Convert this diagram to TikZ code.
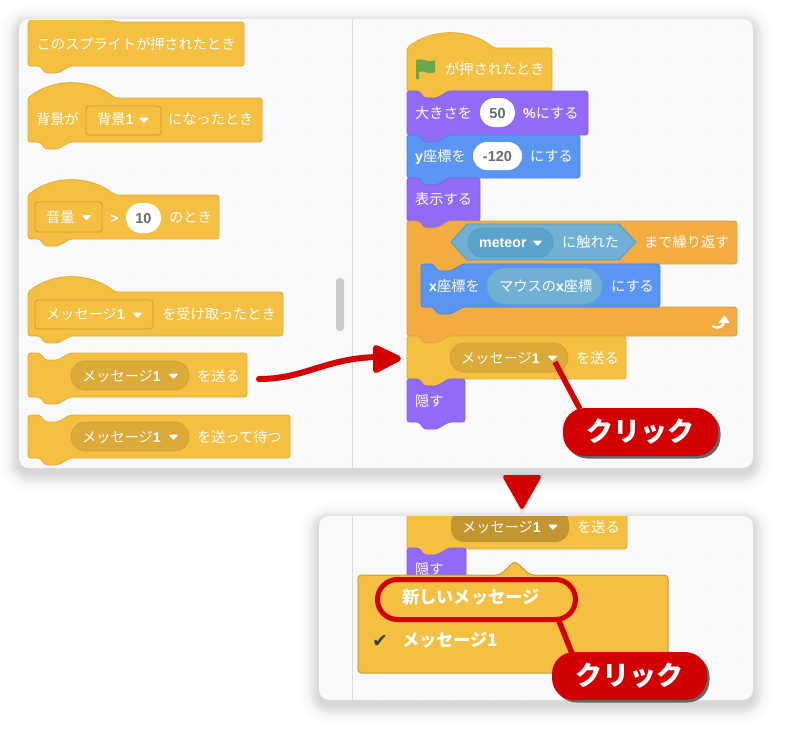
\documentclass[tikz,border=0pt]{standalone}
\usepackage{fontspec}
\usetikzlibrary{shadows,calc}
\setmainfont{Noto Sans CJK JP}
\newfontfamily\lat{Liberation Sans}
\newfontfamily\dejv{DejaVu Sans}
\definecolor{ylw}{HTML}{F5BF42}
\definecolor{ylwd}{HTML}{E0AC3C}
\definecolor{pil}{HTML}{DBAA38}
\definecolor{pur}{HTML}{916AF6}
\definecolor{purd}{HTML}{8560E0}
\definecolor{blu}{HTML}{5B95F3}
\definecolor{blud}{HTML}{4F86DC}
\definecolor{org}{HTML}{F3AC42}
\definecolor{orgd}{HTML}{E09E3C}
\definecolor{sens}{HTML}{6FB0D4}
\definecolor{sensd}{HTML}{5A9CC4}
\definecolor{senp}{HTML}{5CA3CC}
\definecolor{redc}{HTML}{D20000}
\definecolor{pane}{HTML}{F9F9F9}
\definecolor{flagc}{HTML}{66A84E}
\newcount\lblc
\tikzset{
  blk/.style={line width=0.8pt,rounded corners=2.6pt,line join=round},
  ylwb/.style={blk,fill=ylw,draw=ylwd},
  purb/.style={blk,fill=pur,draw=purd},
  blub/.style={blk,fill=blu,draw=blud},
  orgb/.style={blk,fill=org,draw=orgd},
  lab/.style={anchor=base west,inner sep=0pt,text=white,font=\fontsize{14.2}{16}\selectfont},
  gray lab/.style={anchor=base,inner sep=0pt,text=black!58,font=\fontsize{14.5}{16}\selectfont\lat\bfseries},
  redl/.style={draw=redc,line width=5.5pt,line cap=round},
  badge/.style={fill=redc,text=white,rounded corners=22pt,inner sep=0pt,minimum width=155pt,minimum height=48pt,
    font=\fontsize{27}{29}\selectfont\bfseries,
    drop shadow={shadow xshift=2.5pt,shadow yshift=-2.5pt,fill=black!60,opacity=1}},
}
% x1 y1 x2 y2 style
\newcommand\stk[5]{\draw[#5] (#1,#2) -- ({#1+12},#2) -- ({#1+17},{#2+7}) -- ({#1+30},{#2+7}) -- ({#1+42},#2) -- (#3,#2) -- (#3,#4) -- ({#1+42},#4) -- ({#1+30},{#4+7}) -- ({#1+17},{#4+7}) -- ({#1+12},#4) -- (#1,#4) -- cycle;}
\newcommand\hatblk[5]{\draw[#5] (#1,#2) .. controls ({#1+25},{#2-20}) and ({#1+62},{#2-20}) .. ({#1+87},#2) -- (#3,#2) -- (#3,#4) -- ({#1+42},#4) -- ({#1+30},{#4+7}) -- ({#1+17},{#4+7}) -- ({#1+12},#4) -- (#1,#4) -- cycle;}
\newcommand\lbl[3]{\global\advance\lblc by 1 \node[lab] (t\the\lblc) at (#1,{#2+5}) {#3};}
\newcommand\gl[3]{\global\advance\lblc by 1 \node[gray lab] (t\the\lblc) at (#1,{#2+5}) {#3};}
\newcommand\ddtri[2]{\fill[white,draw=white,line width=1.4pt,line join=round] ({#1-3.6},{#2-1.8}) -- ({#1+3.6},{#2-1.8}) -- (#1,{#2+1.9}) -- cycle;}
\newcommand\pillb[5]{\draw[fill=#5,draw=#5!95!black,line width=0.7pt,rounded corners={(#4-#2)/2*1pt}] (#1,#2) rectangle (#3,#4);}
\newcommand\whitep[4]{\fill[white,rounded corners={(#4-#2)/2*1pt}] (#1,#2) rectangle (#3,#4);}
\newcommand\ddbox[4]{\draw[fill=ylw,draw=ylwd!92!black,line width=0.9pt,rounded corners=3pt] (#1,#2) rectangle (#3,#4);}
\newcommand\softshadow[4]{%
  \foreach \i in {1,...,20}{\fill[black,opacity=.0035,rounded corners={(10+\i)*1pt}] ({#1-\i},{#2-\i+5}) rectangle ({#3+\i},{#4+\i+5});}%
  \foreach \i in {1,...,10}{\fill[black,opacity=.0085,rounded corners={(10+\i)*1pt}] ({#1-\i},{#2-\i+5}) rectangle ({#3+\i},{#4+\i+5});}%
}
\begin{document}
\begin{tikzpicture}[x=1pt,y=-1pt]
\useasboundingbox (0,0) rectangle (785,732);
\fill[white] (0,0) rectangle (785,732);
% shadows and panels
\softshadow{19}{19}{753}{468}
\softshadow{319}{516}{753}{700}
\fill[pane,rounded corners=10pt] (19,19) rectangle (753,468);
\fill[pane,rounded corners=10pt] (319,516) rectangle (753,700);
\foreach \yy in {25,61,...,457}{\foreach \xx in {23,59,...,743}{\fill[black!9] (\xx,\yy) circle (0.7pt);}}
\foreach \yy in {517,553,...,697}{\foreach \xx in {383,419,...,743}{\fill[black!9] (\xx,\yy) circle (0.7pt);}}
\draw[black!14,line width=1pt] (352,19) -- (352,468);
\draw[black!14,line width=1pt] (352,516) -- (352,700);
\fill[black!20,rounded corners=3.5pt] (336,278) rectangle (344,331);
% left palette
\begin{scope}
\clip[rounded corners=10pt] (19,20) rectangle (753,468);
\hatblk{28}{22}{244}{66}{ylwb}
\end{scope}
\lbl{36.5}{44}{このスプライトが押されたとき}
\hatblk{28}{98}{262}{142}{ylwb}
\lbl{36}{119}{背景が}
\ddbox{86}{106}{161}{135}
\lbl{97}{119.5}{背景{\lat\bfseries 1}}
\ddtri{144}{120}
\lbl{168}{119}{になったとき}
\hatblk{28}{195}{219}{239}{ylwb}
\ddbox{35}{202}{102}{232}
\lbl{46}{217}{音量}
\ddtri{86.5}{217.5}
\lbl{110}{218}{{\lat\bfseries >}}
\whitep{126}{203}{161}{233}
\gl{143.5}{218}{10}
\lbl{169}{217.5}{のとき}
\hatblk{28}{292}{283}{336}{ylwb}
\ddbox{35}{300}{153}{329}
\lbl{46}{314}{メッセージ{\lat\bfseries 1}}
\ddtri{137.5}{315}
\lbl{162}{314}{を受け取ったとき}
\stk{28}{353}{247}{397}{ylwb}
\pillb{71}{361}{189}{390}{pil}
\lbl{82}{376}{メッセージ{\lat\bfseries 1}}
\ddtri{173.5}{376}
\lbl{197}{376}{を送る}
\stk{28}{415}{290}{458}{ylwb}
\pillb{71}{422}{189}{451}{pil}
\lbl{82}{437}{メッセージ{\lat\bfseries 1}}
\ddtri{173.5}{437}
\lbl{197}{437}{を送って待つ}
% script
\hatblk{407}{48}{552}{91}{ylwb}
\fill[flagc] (416,60) .. controls (422,57) and (428,64) .. (435,60) -- (435,72) .. controls (428,76) and (423,69) .. (419,72) -- (419,79) -- (416,79) -- cycle;
\lbl{445}{69}{が押されたとき}
\stk{407}{91}{588}{135}{purb}
\lbl{415}{113}{大きさを}
\whitep{480}{98}{515}{127}
\gl{497.5}{113}{50}
\lbl{523}{113}{{\lat\bfseries\%}にする}
\stk{407}{135}{580}{178}{blub}
\lbl{415}{156}{{\lat\bfseries y}座標を}
\whitep{473}{142}{522}{170}
\gl{497.5}{156}{-120}
\lbl{530}{156}{にする}
\stk{407}{178}{480}{221}{purb}
\lbl{415}{199}{表示する}
% C block
\draw[orgb] (407,221) -- (419,221) -- (424,228) -- (437,228) -- (449,221) -- (737,221) -- (737,264) -- (463,264) -- (451,271) -- (438,271) -- (433,264) -- (421,264) -- (421,307) -- (737,307) -- (737,336) -- (449,336) -- (437,343) -- (424,343) -- (419,336) -- (407,336) -- cycle;
\draw[fill=sens,draw=sensd,line width=0.9pt,line join=round] (451,242) -- (467,224) -- (619,224) -- (636,242) -- (619,260) -- (467,260) -- cycle;
\pillb{468}{228}{553}{257}{senp}
\lbl{479}{242}{{\lat\bfseries meteor}}
\ddtri{537.5}{243}
\lbl{562}{242}{に触れた}
\lbl{644}{242}{まで繰り返す}
\stk{421}{264}{660}{307}{blub}
\lbl{429}{286}{{\lat\bfseries x}座標を}
\pillb{487}{268}{602}{304}{sens}
\lbl{499}{286}{マウスの{\lat\bfseries x}座標}
\lbl{611}{286}{にする}
\draw[white,line width=2.4pt,line cap=round] (713,326.5) .. controls (719,329) and (723.5,327) .. (724,321);
\fill[white,draw=white,line width=0.8pt,line join=round] (719,322.5) -- (729,322.5) -- (724.5,316) -- cycle;
\stk{407}{336}{626}{379}{ylwb}
\pillb{450}{343}{568}{372}{pil}
\lbl{461}{358}{メッセージ{\lat\bfseries 1}}
\ddtri{552.5}{358}
\lbl{576}{358}{を送る}
\stk{407}{379}{465}{422}{purb}
\lbl{415}{401}{隠す}
% curved arrow
\coordinate (arrowstart) at (259,379);
\coordinate (arrowend) at (378,357);
\draw[redl,line width=6pt] (arrowstart) .. controls (305,379) and (325,358) .. (arrowend);
\fill[redc,draw=redc,line width=6pt,line join=round] (376,348) -- (398,358.5) -- (376,370) -- cycle;
% click badge 1
\coordinate (clicksrc) at (555,362);
\node[badge] (click1) at (640.5,432) {クリック};
\draw[redl,line cap=butt] (clicksrc) -- ([xshift=17pt,yshift=-1pt]click1.north west);
% down triangle
\foreach \i in {1,...,5}{\fill[black,opacity=.02] ({505-\i},{476-\i+2}) -- ({540+\i},{476-\i+2}) -- (522,{509+\i+2}) -- cycle;}
\fill[redc,draw=redc,line width=4pt,line join=round] (505,477) -- (539,477) -- (522,507) -- cycle;
% lower panel
\begin{scope}
\clip[rounded corners=10pt] (319,516) rectangle (753,700);
\stk{407}{505}{627}{549}{ylwb}
\fill[pil!88!black,rounded corners=13pt] (451,510) rectangle (569,542);
\lbl{462}{527}{メッセージ{\lat\bfseries 1}}
\ddtri{553}{527}
\lbl{577}{527}{を送る}
\stk{407}{548}{466}{600}{purb}
\lbl{415}{569}{隠す}
\end{scope}
% menu
\draw[fill=ylw,draw=ylwd!90!black,line width=1pt,rounded corners=3.5pt,line join=round] (358,575) -- (500,575) -- (515,561) -- (530,575) -- (668,575) -- (668,673) -- (358,673) -- cycle;
\lbl{402}{598}{\fontsize{17.2}{19}\selectfont\bfseries 新しいメッセージ}
\node[lab,text=black!75,font=\fontsize{19}{20}\selectfont\dejv] (checkm) at (372,{640+7}) {✔};
\lbl{402}{641}{\fontsize{17.2}{19}\selectfont\bfseries メッセージ1}
\draw[draw=redc,line width=5pt,rounded corners=20pt] (377.5,579.5) rectangle (575.5,619.5);
\node[badge] (click2) at (629.5,676) {クリック};
\coordinate (ringout) at (559,621);
\draw[redl,line cap=butt] (ringout) -- ([xshift=20pt,yshift=-1pt]click2.north west);
\end{tikzpicture}
\end{document}
